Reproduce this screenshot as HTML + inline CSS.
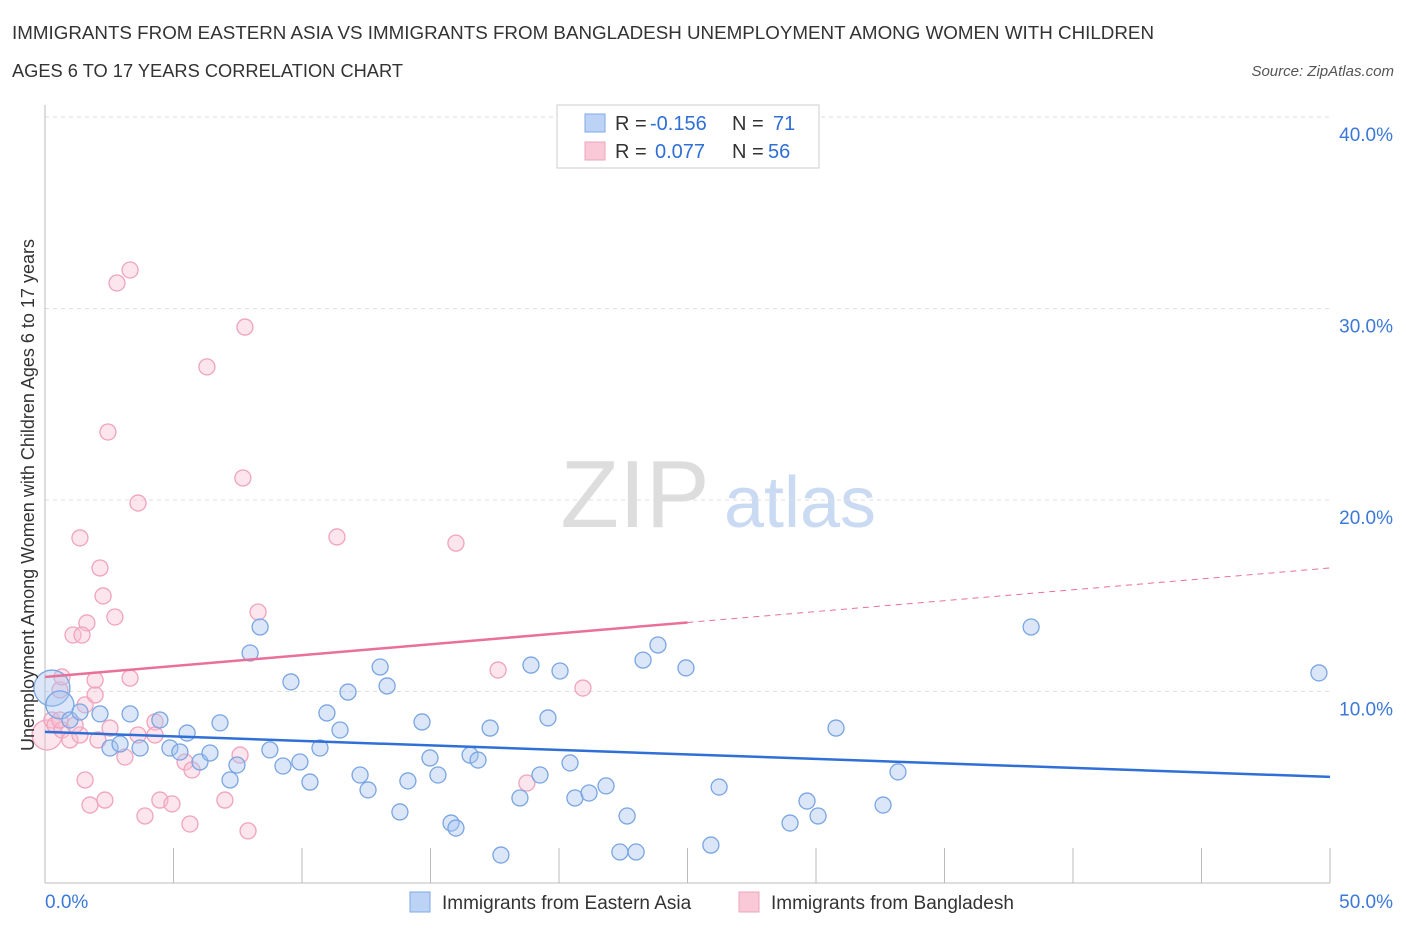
<!DOCTYPE html>
<html><head><meta charset="utf-8"><style>
body{margin:0;background:#fff;font-family:"Liberation Sans",sans-serif;}
svg text{font-family:"Liberation Sans",sans-serif;}
</style></head><body>
<svg id="chart" width="1406" height="930" xmlns="http://www.w3.org/2000/svg">
<text x="12" y="39" font-size="18" fill="#333" textLength="1142" lengthAdjust="spacingAndGlyphs">IMMIGRANTS FROM EASTERN ASIA VS IMMIGRANTS FROM BANGLADESH UNEMPLOYMENT AMONG WOMEN WITH CHILDREN</text>
<text x="12" y="77" font-size="18" fill="#333" textLength="391" lengthAdjust="spacingAndGlyphs">AGES 6 TO 17 YEARS CORRELATION CHART</text>
<text x="1394" y="76" font-size="15" fill="#555" text-anchor="end" font-style="italic">Source: ZipAtlas.com</text>
<g>
<text x="635" y="527" font-size="96" fill="#ddd" font-family="Liberation Serif" text-anchor="middle">ZIP</text>
<text x="800" y="527" font-size="72" fill="#c9daf2" text-anchor="middle">atlas</text>
</g>
<g id="grid"></g>
<g id="axes"></g>
<g id="marks"></g>
<text transform="translate(34,495) rotate(-90)" font-size="18" fill="#333" text-anchor="middle">Unemployment Among Women with Children Ages 6 to 17 years</text>
<g>
<rect x="557" y="105" width="262" height="63" fill="#fff" stroke="#ccc"/>
<rect x="585" y="114" width="20" height="18" fill="#bcd3f5" stroke="#7fa8e6"/>
<text x="615" y="130" font-size="20" fill="#333">R =</text>
<text x="650" y="130" font-size="20" fill="#2f6fd6">-0.156</text>
<text x="732" y="130" font-size="20" fill="#333">N =</text>
<text x="773" y="130" font-size="20" fill="#2f6fd6">71</text>
<rect x="585" y="142" width="20" height="18" fill="#f9c9d8" stroke="#eea5bd"/>
<text x="615" y="158" font-size="20" fill="#333">R =</text>
<text x="655" y="158" font-size="20" fill="#2f6fd6">0.077</text>
<text x="732" y="158" font-size="20" fill="#333">N =</text>
<text x="768" y="158" font-size="20" fill="#2f6fd6">56</text>
</g>
<g>
<rect x="410" y="892" width="20" height="20" fill="#bcd3f5" stroke="#7fa8e6"/>
<text x="442" y="909" font-size="19" fill="#333">Immigrants from Eastern Asia</text>
<rect x="739" y="892" width="20" height="20" fill="#f9c9d8" stroke="#eea5bd"/>
<text x="771" y="909" font-size="19" fill="#333">Immigrants from Bangladesh</text>
</g>
</svg>
<script>
const xTicks=[0,5,10,15,20,25,30,35,40,45,50];
const yTicks=[10,20,30,40];
const yTickLabels=["10.0%","20.0%","30.0%","40.0%"];
const blueX=[0.27,0.58,0.97,1.36,2.14,2.53,2.92,3.70,3.31,4.47,4.86,5.25,5.53,6.03,6.42,6.81,7.20,7.47,7.98,8.37,8.75,9.26,9.57,9.92,10.31,10.70,10.97,11.48,11.79,12.26,12.57,13.04,13.31,13.81,14.12,14.67,14.98,15.29,15.80,15.99,16.54,16.85,17.32,17.74,18.48,18.91,19.26,19.57,20.04,20.43,20.62,21.17,21.83,22.37,22.65,23.00,23.27,23.85,24.94,25.91,26.23,28.99,29.65,30.08,30.78,32.61,33.19,38.37,49.57];
const blueY=[10.18,9.30,8.51,8.93,8.83,7.05,7.26,7.05,8.83,8.51,7.05,6.84,7.83,6.32,6.79,8.36,5.38,6.16,12.01,13.37,6.95,6.11,10.50,6.32,5.27,7.05,8.88,7.99,9.97,5.64,4.86,11.28,10.29,3.71,5.33,8.41,6.53,5.64,3.13,2.87,6.68,6.42,8.09,1.46,4.44,11.38,5.64,8.62,11.07,6.27,4.44,4.70,5.07,1.62,3.50,1.62,11.64,12.43,11.23,1.98,5.01,3.13,4.28,3.50,8.09,4.07,5.80,13.37,10.97];
const blueR=[18,14];
const pinkX=[0.08,0.27,0.39,0.66,0.97,1.36,0.58,0.66,1.56,1.95,1.95,2.06,2.53,1.56,1.75,2.33,2.45,1.36,2.14,2.26,2.72,1.63,1.09,1.44,2.80,3.31,3.62,3.31,3.11,3.89,4.28,4.47,4.94,5.45,5.64,5.72,6.30,7.00,7.59,7.78,7.70,7.90,8.29,11.36,15.99,17.63,18.75,20.93,0.58,1.17,3.62,4.28];
const pinkY=[7.73,8.51,8.25,7.99,7.47,7.73,10.08,10.76,9.30,9.82,10.60,7.47,8.09,5.38,4.07,4.33,23.55,18.02,16.45,14.99,13.89,13.58,12.95,12.95,31.33,32.01,19.84,10.70,6.58,3.50,8.41,4.33,4.13,6.32,3.08,5.90,26.95,4.33,6.68,29.03,21.15,2.72,14.15,18.07,17.75,11.12,5.22,10.18,8.51,8.25,7.73,7.73];
const pinkR=[15];
const blueTrend=[7.89,-0.047];
const pinkTrend=[10.76,0.1138];
const pinkSolidEnd=25;
const NS="http://www.w3.org/2000/svg";
const X=v=>45+v*25.7, Y=v=>883-v*19.15;
function mk(t,a,p){const e=document.createElementNS(NS,t);for(const k in a)e.setAttribute(k,a[k]);p.appendChild(e);return e;}
const grid=document.getElementById('grid'),axes=document.getElementById('axes'),marks=document.getElementById('marks');
yTicks.forEach((v,i)=>{
 const l=mk('line',{x1:45,x2:1330,y1:Y(v),y2:Y(v),stroke:'#ddd','stroke-dasharray':'4,4'},grid);
 
 
 const t=mk('text',{x:1393,y:Y(v)+24,'font-size':19,fill:'#3b78d8','text-anchor':'end'},axes);
 t.textContent=yTickLabels[i];
 
 
});
const ya=mk('line',{x1:45,x2:45,y1:105,y2:883,stroke:'#bbb'},axes);


const xa=mk('line',{x1:45,x2:1330,y1:883,y2:883,stroke:'#bbb'},axes);


xTicks.forEach(v=>{
 const t=mk('line',{x1:X(v),x2:X(v),y1:848,y2:883,stroke:'#bbb'},axes);
 
 
});
const xl0=mk('text',{x:45,y:908,'font-size':19,fill:'#3b78d8'},axes);xl0.textContent='0.0%';


const xl1=mk('text',{x:1393,y:908,'font-size':19,fill:'#3b78d8','text-anchor':'end'},axes);xl1.textContent='50.0%';


pinkX.forEach((v,i)=>{
 const c=mk('circle',{cx:X(v),cy:Y(pinkY[i]),r:pinkR[i]||8,fill:'rgba(248,190,210,0.4)',stroke:'#f0a3bc','stroke-width':1.3},marks);
 
 
});
blueX.forEach((v,i)=>{
 const c=mk('circle',{cx:X(v),cy:Y(blueY[i]),r:blueR[i]||8,fill:'rgba(164,196,240,0.4)',stroke:'#79a5e3','stroke-width':1.3},marks);
 
 
});
const bl=mk('line',{x1:X(0),y1:Y(blueTrend[0]),x2:X(50),y2:Y(blueTrend[0]+blueTrend[1]*50),stroke:'#2f6fd6','stroke-width':2.5},marks);


const pl=mk('line',{x1:X(0),y1:Y(pinkTrend[0]),x2:X(pinkSolidEnd),y2:Y(pinkTrend[0]+pinkTrend[1]*pinkSolidEnd),stroke:'#e8709a','stroke-width':2.5},marks);


const pd=mk('line',{x1:X(pinkSolidEnd),y1:Y(pinkTrend[0]+pinkTrend[1]*pinkSolidEnd),x2:X(50),y2:Y(pinkTrend[0]+pinkTrend[1]*50),stroke:'#e8709a','stroke-width':1,'stroke-dasharray':'6,5'},marks);


</script>
</body></html>
